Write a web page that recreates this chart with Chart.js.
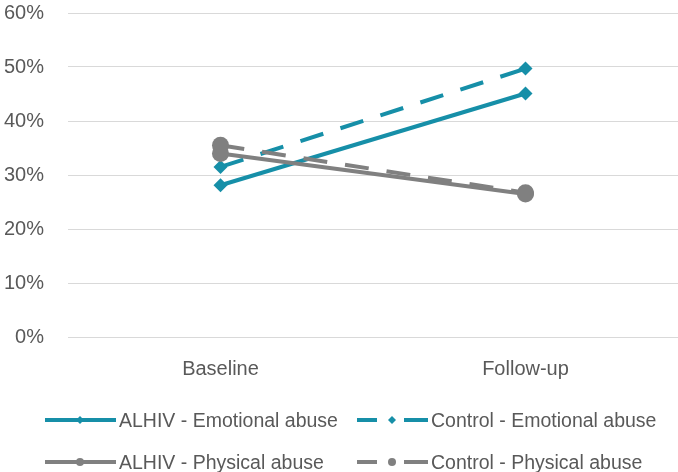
<!DOCTYPE html>
<html>
<head>
<meta charset="utf-8">
<script src="https://cdn.jsdelivr.net/npm/chart.js@4.4.0/dist/chart.umd.min.js"></script>
<style>
  html, body { margin: 0; padding: 0; background: #fff; overflow: hidden; }
  #wrap { position: relative; width: 678px; height: 472px; font-family: "Liberation Sans", sans-serif; }
  #chart { position: absolute; left: 0; top: 0; }
  .leg { position: absolute; display: flex; align-items: center; font-size: 19.5px; color: #595959; white-space: nowrap; }
  .leg svg { margin-right: 3px; }
</style>
</head>
<body>
<div id="wrap">
  <canvas id="chart" width="678" height="472"></canvas>
  <div id="legend"></div>
</div>
<script>
const categories = ['Baseline', 'Follow-up'];
const alhivEmotional = [28.1, 45.1];
const controlEmotional = [31.5, 49.7];
const alhivPhysical = [34.0, 26.5];
const controlPhysical = [35.5, 26.7];
const yTicks = [0, 10, 20, 30, 40, 50, 60];

const teal = '#168FA8';
const grey = '#808080';
const textCol = '#595959';
const dashPattern = [24, 18];

const series = [
    { label: 'ALHIV - Emotional abuse', data: alhivEmotional, color: teal, dashed: false, marker: 'rectRot', r: 7 },
    { label: 'Control - Emotional abuse', data: controlEmotional, color: teal, dashed: true, marker: 'rectRot', r: 7 },
    { label: 'ALHIV - Physical abuse', data: alhivPhysical, color: grey, dashed: false, marker: 'circle', r: 8.5 },
    { label: 'Control - Physical abuse', data: controlPhysical, color: grey, dashed: true, marker: 'circle', r: 8.5 }
];

// drop the extra room chart.js keeps for tick labels, so the plot box sits where it should
function noPad(scale) {
    scale.paddingTop = 0;
    scale.paddingBottom = 0;
    scale.paddingLeft = 0;
    scale.paddingRight = 0;
}

const ctx = document.getElementById('chart');

new Chart(ctx, {
    type: 'line',
    data: {
        labels: categories,
        datasets: series.map((s, i) => ({
            label: s.label,
            data: s.data,
            borderColor: s.color,
            backgroundColor: s.color,
            borderWidth: 4,
            borderDash: s.dashed ? dashPattern : [],
            pointStyle: s.marker,
            pointRadius: s.r,
            pointBorderWidth: 0,
            tension: 0,
            order: series.length - i
        }))
    },
    options: {
        responsive: false,
        animation: false,
        layout: { autoPadding: false, padding: { top: 13, right: 0, bottom: 0, left: 0 } },
        plugins: { legend: { display: false }, tooltip: { enabled: false } },
        scales: {
            x: {
                offset: true,
                grid: { display: false },
                border: { display: false },
                ticks: { color: textCol, font: { family: 'Liberation Sans', size: 20 }, padding: 12 },
                afterFit: (scale) => { scale.height = 135; noPad(scale); }
            },
            y: {
                min: 0,
                max: 60,
                afterBuildTicks: (scale) => { scale.ticks = yTicks.map(v => ({ value: v })); },
                grid: { color: '#D9D9D9', lineWidth: 1, drawTicks: false },
                border: { display: false },
                ticks: {
                    color: textCol,
                    font: { family: 'Liberation Sans', size: 20 },
                    padding: 24,
                    callback: (v) => v + '%'
                },
                afterFit: (scale) => { scale.width = 68; noPad(scale); }
            }
        }
    }
});

// legend, drawn as html under the plot
const legPos = [
    { x: 45, y: 420 }, { x: 357, y: 420 },
    { x: 45, y: 462 }, { x: 357, y: 462 }
];
const legend = document.getElementById('legend');
series.forEach((s, i) => {
    const p = legPos[i];
    const line = s.dashed
        ? `<line x1="0" y1="6" x2="20" y2="6" stroke="${s.color}" stroke-width="4"/><line x1="47" y1="6" x2="71" y2="6" stroke="${s.color}" stroke-width="4"/>`
        : `<line x1="0" y1="6" x2="71" y2="6" stroke="${s.color}" stroke-width="4"/>`;
    const mark = s.marker === 'rectRot'
        ? `<polygon points="35,2 39,6 35,10 31,6" fill="${s.color}"/>`
        : `<circle cx="35" cy="6" r="4" fill="${s.color}"/>`;
    const div = document.createElement('div');
    div.className = 'leg';
    div.style.left = p.x + 'px';
    div.style.top = (p.y - 12) + 'px';
    div.style.height = '24px';
    div.innerHTML = `<svg width="71" height="12">${line}${mark}</svg><span>${s.label}</span>`;
    legend.appendChild(div);
});
</script>
</body>
</html>
